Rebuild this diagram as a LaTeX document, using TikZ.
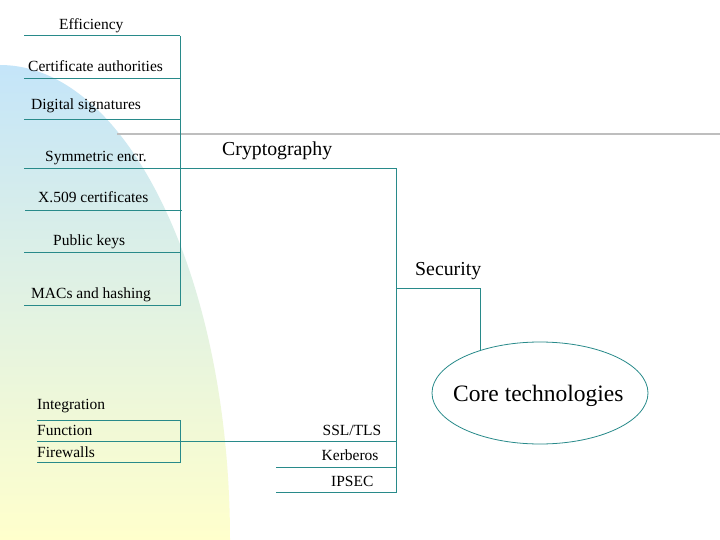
\documentclass[tikz,border=0pt]{standalone}
\usetikzlibrary{shapes.geometric}
\usepackage{fontspec}
\setmainfont{Liberation Serif}
\definecolor{teal1}{RGB}{40,138,138}
\definecolor{grayline}{RGB}{190,190,190}
\definecolor{bgblue}{RGB}{196,229,249}
\definecolor{bgyellow}{RGB}{255,255,204}
\begin{document}
\begin{tikzpicture}[x=1pt,y=-1pt,
  conn/.style={draw=teal1,line width=1pt},
  lbl/.style={anchor=base west,inner sep=0pt,font=\fontsize{15.5}{18}\selectfont},
  biglbl/.style={anchor=base west,inner sep=0pt,font=\fontsize{19.8}{23}\selectfont},
  corebox/.style={draw=teal1,line width=0.8pt,ellipse,minimum width=216pt,minimum height=102pt,inner sep=0pt}]
\useasboundingbox (0,0) rectangle (720,540);
\fill[white] (0,0) rectangle (720,540);
% background
\begin{scope}
  \clip (0,540) ellipse [x radius=230, y radius=475];
  \shade[top color=bgblue,bottom color=bgyellow] (0,65) rectangle (231,540);
\end{scope}
% grey rule
\draw[grayline,line width=2pt] (117,134.5) -- (720,134.5);

% left group texts
\node[lbl] (eff) at (59,29.5) {Efficiency};
\node[lbl] (ca) at (28,71.5) {Certificate authorities};
\node[lbl] (ds) at (31,109.5) {Digital signatures};
\node[lbl] (sym) at (45,161.5) {Symmetric encr.};
\node[lbl] (x509) at (38,203) {X.509 certificates};
\node[lbl] (pk) at (53,245.5) {Public keys};
\node[lbl] (mac) at (31,298) {MACs and hashing};

\node[biglbl] (crypto) at (222,156) {Cryptography};
\node[biglbl] (sec) at (415,275) {Security};
\node[corebox] (core) at (540,393) {};
\node[anchor=base west,inner sep=0pt,font=\fontsize{23.5}{27}\selectfont] (coretxt) at (453,401.5) {Core technologies};

\node[lbl] (integ) at (37,409.5) {Integration};
\node[lbl] (func) at (37,435) {Function};
\node[lbl] (fw) at (37,457) {Firewalls};
\node[lbl] (ssl) at (322.5,435) {SSL/TLS};
\node[lbl] (kerb) at (321.5,460) {Kerberos};
\node[lbl] (ipsec) at (331,486) {IPSEC};

% coordinates of the connector tree
\coordinate (l1) at (24,36);   \coordinate (r1) at (180,36);
\coordinate (l2) at (24,78.5); \coordinate (r2) at (180,78.5);
\coordinate (l3) at (24,120);  \coordinate (r3) at (180,120);
\coordinate (l4) at (24,168.5);\coordinate (r4) at (180,168.5);
\coordinate (l5) at (25,210.5);\coordinate (r5) at (182,210.5);
\coordinate (l6) at (24,252);  \coordinate (r6) at (180,252);
\coordinate (l7) at (24,305.5);\coordinate (r7) at (180,305.5);
\coordinate (cj) at (396,168.5);
\coordinate (sj) at (396,288.5);
\coordinate (sr) at (480,288.5);
\coordinate (se) at (480,350.5);
\coordinate (bot) at (396,492.5);
\coordinate (fl1) at (37,420.5); \coordinate (fr1) at (180.5,420.5);
\coordinate (fl2) at (37,441.5); \coordinate (mj) at (396,441.5);
\coordinate (fl3) at (37,462.5); \coordinate (fr3) at (180.5,462.5);
\coordinate (kl) at (276,467.5); \coordinate (kr) at (396,467.5);
\coordinate (il) at (276,492.5);

% left group lines
\draw[conn] (r1) -- (r7);
\draw[conn] (l1) -- (r1);
\draw[conn] (l2) -- (r2);
\draw[conn] (l3) -- (r3);
\draw[conn] (l4) -- (cj);
\draw[conn] (l5) -- (r5);
\draw[conn] (l6) -- (r6);
\draw[conn] (l7) -- (r7);
% main vertical
\draw[conn] (cj) -- (bot);
% security
\draw[conn] (sj) -- (sr) -- (se);
% bottom group
\draw[conn] (fl1) -- (fr1) -- (fr3) -- (fl3);
\draw[conn] (fl2) -- (mj);
\draw[conn] (kl) -- (kr);
\draw[conn] (il) -- (bot);
\end{tikzpicture}
\end{document}
